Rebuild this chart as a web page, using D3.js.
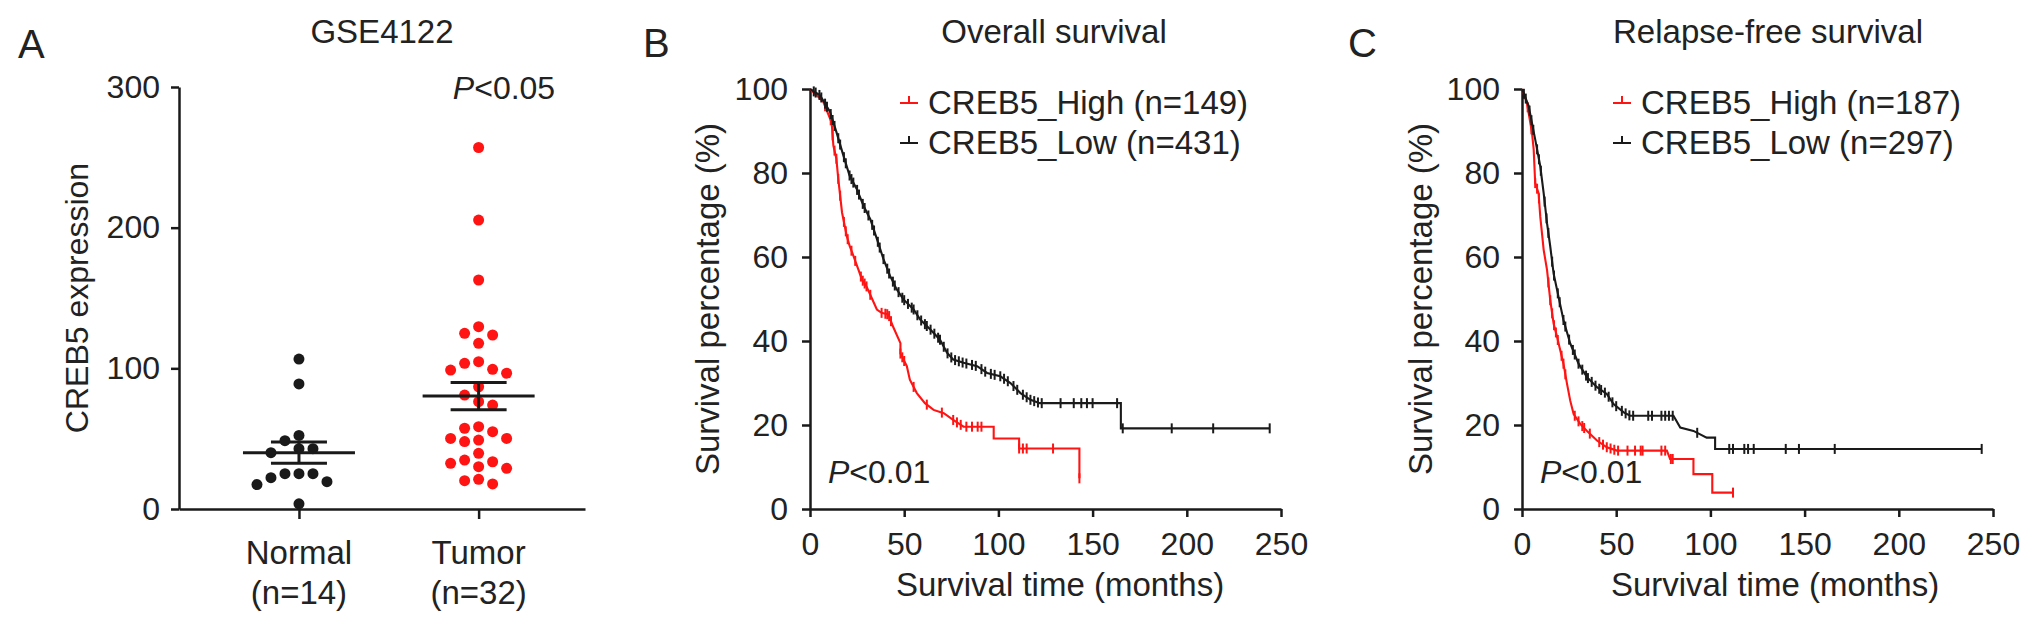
<!DOCTYPE html>
<html>
<head>
<meta charset="utf-8">
<script src="https://cdn.jsdelivr.net/npm/d3@7"></script>
<style>
  body { margin: 0; background: #fff; }
  svg text { font-family: "Liberation Sans", Arial, Helvetica, sans-serif; fill: #222; }
</style>
</head>
<body>
<svg width="2043" height="626"></svg>
<script>
// panel A: CREB5 expression, GSE4122
let groups      = ['Normal', 'Tumor'],
    groupCounts = ['(n=14)', '(n=32)'];
let normalValues = [106.6, 88.9, 52.3, 48.6, 42.9, 42.9, 40.0, 25.1, 25.1, 25.1, 22.3, 19.4, 17.4, 3.7];
let tumorValues  = [257, 205.4, 162.8, 129.6, 123.7, 124.9, 117.8, 104.7, 99.3, 103.6, 98.8, 96.5,
                    86.9, 81, 76.3, 73.9, 58.5, 57.4, 55, 50.2, 47.9, 49, 50.2, 39.6,
                    30.1, 33.6, 32.5, 34.8, 28.9, 21.1, 17.8, 20.1];
let exprTicks = [0, 100, 200, 300];

// panel B: overall survival (months, %)
let osHighTime   = [0, 7, 11.5, 12.4, 14, 15, 17, 19.5, 21, 23, 25.7, 27.5, 30, 33, 35.5, 38, 41.7, 44, 48, 48,
                    51.4, 53, 56.7, 61, 65.6, 71, 76, 81.5, 97.5, 97.5, 111, 111, 143, 143];
let osHighSurv   = [100, 97, 92, 86.5, 83.4, 78.6, 70.6, 65, 62.7, 60.3, 57, 54.7, 53, 50, 47.5, 46.7, 46.3, 43.5, 39.5, 37,
                    34, 30.8, 27.6, 25.2, 23.6, 22.8, 21.2, 19.6, 19.6, 16.8, 16.8, 14.4, 14.4, 7.3];
let osHighCensor = [8, 11, 12, 13, 14, 15, 16, 18, 19, 20, 22, 24, 27, 28, 29, 30, 32, 38, 40, 41, 42, 43,
                    48, 49, 50, 55, 62, 70, 76, 78, 80, 83, 86, 89, 91, 111, 113, 115, 129, 143];
let osLowTime    = [0, 5.3, 10.6, 14, 17.7, 21, 24.8, 28.4, 32, 35.5, 39, 42.5, 46, 49.6, 55, 58.5, 64, 69, 72.7,
                    76, 81.5, 88.7, 94, 101, 106.4, 111.7, 117, 122, 165, 165, 244];
let osLowSurv    = [100, 98.5, 94.6, 89.8, 84.2, 79.4, 76.2, 72.2, 69, 64.3, 59.5, 55.5, 52.3, 49.9, 47.5, 45.1, 42.7, 40.3, 37.2,
                    35.6, 34.8, 34, 32.4, 31.6, 30, 27.6, 26, 25.2, 25.2, 19.2, 19.2];
let osLowCensor  = [2, 3, 5, 6, 8, 9, 11, 12, 13, 15, 16, 18, 19, 21, 22, 23, 25, 26, 28, 29, 31, 33, 34, 36, 37, 39,
                    41, 42, 44, 45, 47, 49, 50, 52, 54, 55, 57, 59, 61, 62, 64, 66, 68, 69, 71, 73, 75, 77, 79, 81,
                    83, 86, 88, 91, 93, 96, 98, 101, 103, 105, 108, 110, 113, 115, 117, 119, 121, 123, 133, 140,
                    144, 147, 150, 163, 166, 192, 214, 244];

// panel C: relapse-free survival (months, %)
let rfsHighTime   = [0, 2.6, 5.3, 6.2, 7, 8.8, 9.7, 11.5, 13.3, 15, 16.8, 18.6, 20.3, 22, 23.9, 25.6, 27.4, 31, 34.5,
                     39.8, 45, 50.4, 76.9, 78.6, 91, 91, 101, 101, 112];
let rfsHighSurv   = [100, 96.7, 89.6, 85.6, 77.6, 75.2, 69.6, 61.7, 56.9, 49.7, 44.1, 41, 37.8, 34.6, 29.8, 25.8, 22.6, 20.2, 18.6,
                     16.3, 14.7, 13.9, 13.9, 11.9, 11.9, 8.3, 8.3, 3.9, 3.9];
let rfsHighCensor = [3, 5, 7, 8, 9, 14, 15, 16, 17, 18, 19, 21, 22, 23, 28, 30, 32, 33, 36, 41, 43, 45, 47, 49,
                     51, 56, 60, 63, 64, 74, 76, 79, 80, 112];
let rfsLowTime    = [0, 3.5, 7, 9.7, 11.5, 13.3, 15, 16.8, 19.4, 22, 25.6, 30, 34.5, 39.8, 45, 48.6, 54, 57.4,
                     80.4, 84, 91, 98, 102.5, 102.5, 243.8];
let rfsLowSurv    = [100, 96, 88, 81.6, 75.2, 68, 62.5, 56, 50.5, 45, 39.4, 34.6, 31.4, 29, 27.4, 25, 23, 22.2,
                     22.2, 19.4, 18.6, 17, 17, 14.3, 14.3];
let rfsLowCensor  = [1, 2, 4, 5, 6, 8, 9, 10, 12, 13, 14, 16, 17, 19, 20, 22, 23, 25, 27, 28, 30, 32, 34, 35, 37,
                     39, 41, 42, 44, 46, 48, 50, 53, 55, 57, 59, 67, 69, 74, 76, 78, 80, 93, 110, 112, 118,
                     120, 123, 140, 147, 166, 244];

let monthTicks   = [0, 50, 100, 150, 200, 250],
    percentTicks = [0, 20, 40, 60, 80, 100];

let red   = '#ff1414',
    black = '#1a1a1a';

let svg = d3.select('svg');

function styleAxis(g) {
  g.selectAll('.domain, .tick line').attr('stroke', black).attr('stroke-width', 2.5);
  g.selectAll('.tick text').attr('font-size', 32).attr('fill', '#222');
}

// ---------- Panel A ----------
let aY = d3.scaleLinear().domain([0, 300]).range([509, 87]);
let aX = d3.scalePoint().domain(groups).range([179, 585]).padding(0.63).align(0.53);

svg.append('g')
    .attr('transform', 'translate(179,0)')
    .call(d3.axisLeft(aY).tickValues(exprTicks).tickSize(8).tickPadding(11).tickSizeOuter(0))
    .call(styleAxis);

svg.append('g')
    .attr('transform', 'translate(0,509)')
    .call(d3.axisBottom(aX).tickSize(10).tickSizeOuter(0).tickFormat(''))
    .call(styleAxis);

groups.forEach((gname, i) => {
  svg.append('text')
      .attr('x', aX(gname)).attr('y', 564)
      .attr('text-anchor', 'middle').attr('font-size', 33)
      .text(gname);
  svg.append('text')
      .attr('x', aX(gname)).attr('y', 604)
      .attr('text-anchor', 'middle').attr('font-size', 33)
      .text(groupCounts[i]);
});

// simple beeswarm so dots with close values spread sideways
function swarm(values, cx, r, step) {
  let placed = [];
  values.slice().sort((a, b) => b - a).forEach(v => {
    let py = aY(v);
    for (let k = 0; k < 30; k++) {
      let off = (k % 2 ? -1 : 1) * Math.ceil(k / 2) * step;
      let px = cx + off;
      let clash = placed.some(p => Math.hypot(p.x - px, p.y - py) < 2 * r + 1.5);
      if (!clash) { placed.push({ x: px, y: py, v: v }); break; }
    }
  });
  return placed;
}

[[normalValues, black], [tumorValues, red]].forEach(([vals, col], i) => {
  let cx  = aX(groups[i]);
  let pts = swarm(vals, cx, 5.5, 14);
  svg.append('g').selectAll('circle')
    .data(pts)
    .enter()
    .append('circle')
      .attr('cx', d => d.x)
      .attr('cy', d => d.y)
      .attr('r', 5.5)
      .attr('fill', col);

  let m   = d3.mean(vals),
      sem = d3.deviation(vals) / Math.sqrt(vals.length);
  let g = svg.append('g').attr('stroke', black).attr('stroke-width', 3);
  g.append('line').attr('x1', cx - 56).attr('x2', cx + 56).attr('y1', aY(m)).attr('y2', aY(m));
  g.append('line').attr('x1', cx - 28).attr('x2', cx + 28).attr('y1', aY(m + sem)).attr('y2', aY(m + sem));
  g.append('line').attr('x1', cx - 28).attr('x2', cx + 28).attr('y1', aY(m - sem)).attr('y2', aY(m - sem));
  g.append('line').attr('x1', cx).attr('x2', cx).attr('y1', aY(m + sem)).attr('y2', aY(m - sem));
});

svg.append('text').attr('x', 18).attr('y', 58).attr('font-size', 40).text('A');
svg.append('text').attr('x', 382).attr('y', 43).attr('text-anchor', 'middle').attr('font-size', 33).text('GSE4122');
svg.append('text')
    .attr('transform', 'translate(77,298) rotate(-90)')
    .attr('dy', '0.35em')
    .attr('text-anchor', 'middle')
    .attr('font-size', 32)
    .text('CREB5 expression');

let pA = svg.append('text').attr('x', 504).attr('y', 99).attr('text-anchor', 'middle').attr('font-size', 32);
pA.append('tspan').attr('font-style', 'italic').text('P');
pA.append('tspan').text('<0.05');

// ---------- Panels B and C ----------
function survAt(times, surv, t) {
  let i = d3.bisectRight(times, t) - 1;
  if (i < 0) return surv[0];
  if (i >= times.length - 1) return surv[times.length - 1];
  let t0 = times[i], t1 = times[i + 1];
  if (t1 === t0) return surv[i];
  return surv[i] + (surv[i + 1] - surv[i]) * (t - t0) / (t1 - t0);
}

function drawKM(cfg) {
  let x = d3.scaleLinear().domain([0, 250]).range([cfg.x0, cfg.x0 + 471]);
  let y = d3.scaleLinear().domain([0, 100]).range([509, 89]);

  svg.append('g')
      .attr('transform', `translate(${cfg.x0},0)`)
      .call(d3.axisLeft(y).tickValues(percentTicks).tickSize(8).tickPadding(14).tickSizeOuter(0))
      .call(styleAxis);
  svg.append('g')
      .attr('transform', 'translate(0,509)')
      .call(d3.axisBottom(x).tickValues(monthTicks).tickSize(8).tickPadding(15).tickSizeOuter(0))
      .call(styleAxis);

  let line = d3.line().x(d => x(d[0])).y(d => y(d[1]));

  cfg.series.forEach(s => {
    let pts = s.time.map((t, i) => [t, s.surv[i]]);
    svg.append('path')
        .attr('d', line(pts))
        .attr('fill', 'none')
        .attr('stroke', s.color)
        .attr('stroke-width', 2.1);
    svg.append('g').selectAll('line')
      .data(s.censor)
      .enter()
      .append('line')
        .attr('x1', d => x(d)).attr('x2', d => x(d))
        .attr('y1', d => y(survAt(s.time, s.surv, d)) - 5)
        .attr('y2', d => y(survAt(s.time, s.surv, d)) + 5)
        .attr('stroke', s.color)
        .attr('stroke-width', 2);
  });

  // legend
  cfg.series.forEach((s, i) => {
    let ly = 103 + i * 40;
    svg.append('line')
        .attr('x1', cfg.legendX).attr('x2', cfg.legendX + 18)
        .attr('y1', ly).attr('y2', ly)
        .attr('stroke', s.color).attr('stroke-width', 2);
    svg.append('line')
        .attr('x1', cfg.legendX + 9).attr('x2', cfg.legendX + 9)
        .attr('y1', ly - 7).attr('y2', ly)
        .attr('stroke', s.color).attr('stroke-width', 2);
    svg.append('text')
        .attr('x', cfg.legendX + 28).attr('y', ly + 11)
        .attr('font-size', 33)
        .text(s.label);
  });

  svg.append('text').attr('x', cfg.letterX).attr('y', 57).attr('font-size', 40).text(cfg.letter);
  svg.append('text')
      .attr('x', cfg.titleX).attr('y', 43)
      .attr('text-anchor', 'middle').attr('font-size', 33)
      .text(cfg.title);
  svg.append('text')
      .attr('transform', `translate(${cfg.yLabelX},299) rotate(-90)`)
      .attr('dy', '0.35em')
      .attr('text-anchor', 'middle')
      .attr('font-size', 33)
      .text('Survival percentage (%)');
  svg.append('text')
      .attr('x', cfg.xLabelX).attr('y', 596)
      .attr('text-anchor', 'middle').attr('font-size', 33)
      .text('Survival time (months)');

  let p = svg.append('text').attr('x', cfg.x0 + 18).attr('y', 483).attr('font-size', 32);
  p.append('tspan').attr('font-style', 'italic').text('P');
  p.append('tspan').text('<0.01');
}

drawKM({
  x0: 810, letter: 'B', letterX: 643, title: 'Overall survival', titleX: 1054,
  yLabelX: 707, xLabelX: 1060, legendX: 900,
  series: [
    { label: 'CREB5_High (n=149)', color: red,   time: osHighTime, surv: osHighSurv, censor: osHighCensor },
    { label: 'CREB5_Low (n=431)',  color: black, time: osLowTime,  surv: osLowSurv,  censor: osLowCensor }
  ]
});

drawKM({
  x0: 1522, letter: 'C', letterX: 1348, title: 'Relapse-free survival', titleX: 1768,
  yLabelX: 1420, xLabelX: 1775, legendX: 1613,
  series: [
    { label: 'CREB5_High (n=187)', color: red,   time: rfsHighTime, surv: rfsHighSurv, censor: rfsHighCensor },
    { label: 'CREB5_Low (n=297)',  color: black, time: rfsLowTime,  surv: rfsLowSurv,  censor: rfsLowCensor }
  ]
});
</script>
</body>
</html>
